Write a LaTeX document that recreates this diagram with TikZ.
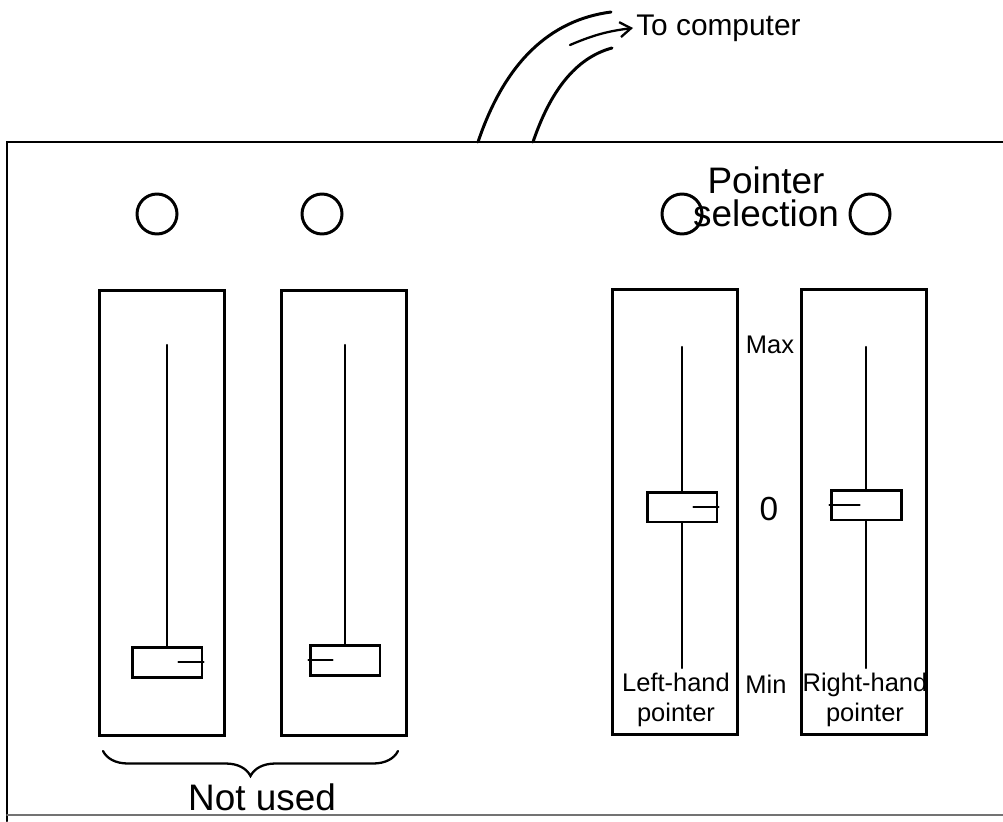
\documentclass[tikz,border=0pt]{standalone}
\usepackage{fontspec}
\setmainfont{Liberation Sans}
\usetikzlibrary{arrows.meta,decorations.pathreplacing}

\begin{document}
\begin{tikzpicture}[x=0.02cm,y=-0.02cm,
    line width=1.7pt,line cap=round,
    knob/.style={draw,circle,inner sep=0pt,minimum size=0.8cm},
    slot/.style={draw,rectangle,inner sep=0pt,minimum width=2.5cm,minimum height=8.92cm},
    slider/.style={draw,rectangle,inner sep=0pt,minimum width=1.4cm,minimum height=0.6cm},
    track/.style={line width=1.4pt},
    lbl/.style={font=\fontsize{14.5}{17}\selectfont,inner sep=0pt,align=center},
    biglbl/.style={font=\fontsize{21}{19}\selectfont,inner sep=0pt,align=center}
  ]
    \useasboundingbox (0,0) rectangle (1003,821);

    % panel outline
    \draw (1003,142) -- (7,142) -- (7,821);
    \draw[black!55,line width=1.1pt] (7,815) -- (1003,815);

    % cable to the computer
    \coordinate (cableA) at (478,142);
    \coordinate (cableB) at (533,142);
    \coordinate (cableAend) at (611,12);
    \coordinate (cableBend) at (612,48);
    \draw (cableA) .. controls (505,62) and (550,20) .. (cableAend);
    \draw (cableB) .. controls (550,92) and (575,58) .. (cableBend);
    \node[font=\fontsize{17}{19}\selectfont,anchor=west,inner sep=1pt] (tocomp) at (633,28) {To computer};
    \coordinate (arrowtail) at (570,45);
    \draw[line width=1.3pt,-{Straight Barb[length=2.2mm,width=3mm]}] (arrowtail) to[bend left=8] (tocomp.west);

    % selection lamps
    \node[knob] (lampA) at (157,214) {};
    \node[knob] (lampB) at (322,214) {};
    \node[knob] (lampC) at (682,214) {};
    \node[knob] (lampD) at (870,214) {};
    \node[biglbl] (pointsel) at (766,197) {Pointer\\selection};

    % slider slots
    \node[slot] (slotA) at (162,513) {};
    \node[slot] (slotB) at (344,513) {};
    \node[slot] (slotC) at (675,512) {};
    \node[slot] (slotD) at (864,512) {};

    % sliders
    \node[slider] (knobA) at (167,662) {};
    \node[slider] (knobB) at (345,660) {};
    \node[slider] (knobC) at (682,507) {};
    \node[slider] (knobD) at (866,505) {};

    \coordinate (topA) at (167,345);
    \coordinate (topB) at (345,345);
    \coordinate (topC) at (682,347);
    \coordinate (topD) at (866,347);
    \coordinate (botC) at (682,668);
    \coordinate (botD) at (866,668);
    \draw[track] (topA) -- (knobA.north);
    \draw[track] (topB) -- (knobB.north);
    \draw[track] (topC) -- (knobC.north);
    \draw[track] (knobC.south) -- (botC);
    \draw[track] (topD) -- (knobD.north);
    \draw[track] (knobD.south) -- (botD);

    \draw[track] (knobA.east) -- ++(-25,0);
    \draw[track] (knobB.west) -- ++(24,0);
    \draw[track] (knobC.east) -- ++(-25,0);
    \draw[track] (knobD.west) -- ++(30,0);

    % scale marks
    \node[lbl] (maxlbl) at (770,345) {Max};
    \node[font=\fontsize{19}{21}\selectfont,inner sep=0pt] (zerolbl) at (769,509) {0};
    \node[lbl] (minlbl) at (766,684) {Min};
    \node[lbl] (leftlbl) at (676,700) {Left-hand\\pointer};
    \node[lbl] (rightlbl) at (865,700) {Right-hand\\pointer};

    % unused pair
    \coordinate (braceL) at (103,751);
    \coordinate (braceR) at (398,751);
    \draw[line width=1.3pt,decorate,decoration={brace,mirror,amplitude=0.5cm}] (braceL) -- (braceR);
    \node[biglbl] (notused) at (262,797) {Not used};
\end{tikzpicture}
\end{document}
